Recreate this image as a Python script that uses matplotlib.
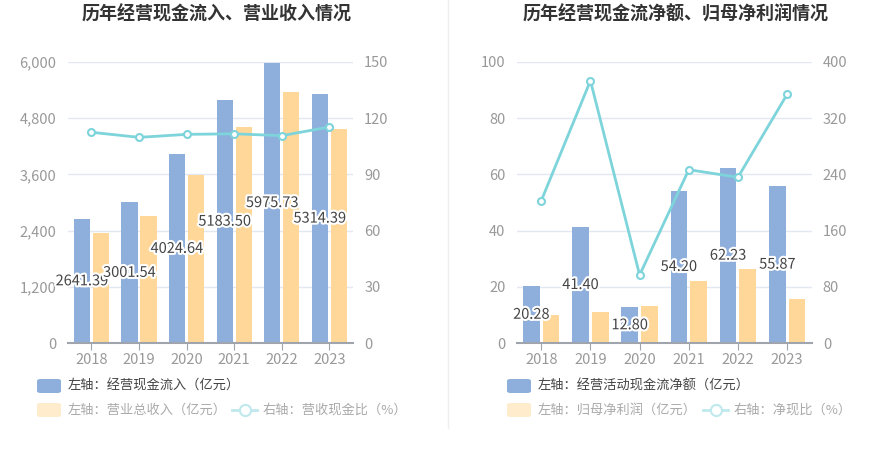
import matplotlib
matplotlib.use("Agg")
import matplotlib.pyplot as plt
import matplotlib.patheffects as pe
from matplotlib.patches import FancyBboxPatch
from matplotlib.lines import Line2D
import numpy as np

plt.rcParams['font.family'] = ['Noto Sans CJK SC', 'DejaVu Sans']

years = ['2018', '2019', '2020', '2021', '2022', '2023']

# Left chart
cash_inflow = [2641.39, 3001.54, 4024.64, 5183.50, 5975.73, 5314.39]
revenue = [2344, 2719, 3586, 4602, 5361, 4566]
inflow_ratio = [112.4, 109.7, 111.3, 111.6, 110.6, 115.2]

# Right chart
net_cash = [20.28, 41.40, 12.80, 54.20, 62.23, 55.87]
net_profit = [10.05, 11.2, 13.35, 22.0, 26.4, 15.8]
net_ratio = [202.6, 373.0, 97.0, 246.6, 235.8, 353.7]

W, H = 893, 458
fig = plt.figure(figsize=(W / 100, H / 100), dpi=100)

BLUE = '#8eaedc'
ORANGE = '#ffd899'
TEAL = '#7dd4da'
GRID = '#e3e7f1'
TICK = '#999999'


def ax_px(x, y_top, w, h):
    return fig.add_axes([x / W, (H - y_top - h) / H, w / W, h / H])


def draw(x0, width, bars1, bars2, line, lmax, rmax, lticks, rticks, lfmt, title, tcx,
         leg1, leg2, leg3, legx):
    ax = ax_px(x0, 61.7, width, 281.6)
    n = len(years)
    x = np.arange(n)
    bw = 0.34
    gap = 0.03
    ax.bar(x - bw / 2 - gap, bars1, width=bw, color=BLUE, zorder=2)
    ax.bar(x + bw / 2 + gap, bars2, width=bw, color=ORANGE, zorder=2)
    ax.set_xlim(-0.5, n - 0.5)
    ax.set_ylim(0, lmax)
    ax.set_yticks(lticks)
    ax.set_yticklabels([lfmt(v) for v in lticks])
    ax.grid(axis='y', color=GRID, linewidth=1, zorder=0)
    for s in ['top', 'right', 'left']:
        ax.spines[s].set_visible(False)
    ax.spines['bottom'].set_color('#a0a4ad')
    ax.spines['bottom'].set_linewidth(1.5)
    ax.set_xticks(x)
    ax.set_xticklabels(years)
    ax.tick_params(axis='x', colors='#a0a4ad', labelcolor=TICK, labelsize=10.5, length=5, pad=2)
    ax.tick_params(axis='y', length=0, labelcolor=TICK, labelsize=10.5, pad=8)
    for i, v in enumerate(bars1):
        ax.text(i - bw / 2 - gap, v / 2, f'{v:.2f}', ha='center', va='center', fontsize=10.5,
                color='#444444', zorder=5,
                path_effects=[pe.withStroke(linewidth=3, foreground='white')])
    ax2 = ax.twinx()
    ax2.set_ylim(0, rmax)
    ax2.set_yticks(rticks)
    ax2.plot(x, line, color=TEAL, linewidth=2, marker='o', markersize=5,
             markerfacecolor='white', markeredgecolor=TEAL, markeredgewidth=1.5, zorder=4)
    for s in ['top', 'right', 'left', 'bottom']:
        ax2.spines[s].set_visible(False)
    ax2.tick_params(axis='y', length=0, labelcolor=TICK, labelsize=10.5, pad=8)
    ax2.set_zorder(ax.get_zorder() + 1)
    ax.set_zorder(ax2.get_zorder() - 1)
    fig.text(tcx / W, 1 - 14 / H, title, ha='center', va='center', fontsize=13,
             fontweight='bold', color='#333333')
    # legend
    def sq(xp, yp, color):
        p = FancyBboxPatch(((xp) / W, (H - yp - 7) / H), 24 / W, 14 / H,
                           boxstyle='round,pad=0,rounding_size=0.004', transform=fig.transFigure,
                           facecolor=color, edgecolor='none')
        fig.patches.append(p)
    sq(legx, 386, BLUE)
    fig.text((legx + 31) / W, 1 - 386 / H, leg1, ha='left', va='center', fontsize=9.5, color='#444444')
    sq(legx, 410, '#feeccd')
    fig.text((legx + 31) / W, 1 - 410 / H, leg2, ha='left', va='center', fontsize=9.5, color='#aaaaaa')
    lx = legx + 195 if len(leg2) < 12 else legx + 195
    return ax


lx1 = 37
draw(67.7, 285.3, cash_inflow, revenue, inflow_ratio, 6000, 150,
     [0, 1200, 2400, 3600, 4800, 6000], [0, 30, 60, 90, 120, 150],
     lambda v: f'{v:,}', '历年经营现金流入、营业收入情况', 217,
     '左轴：经营现金流入（亿元）', '左轴：营业总收入（亿元）', '右轴：营收现金比（%）', lx1)

lx2 = 507
draw(516.7, 295, net_cash, net_profit, net_ratio, 100, 400,
     [0, 20, 40, 60, 80, 100], [0, 80, 160, 240, 320, 400],
     lambda v: f'{v}', '历年经营现金流净额、归母净利润情况', 676,
     '左轴：经营活动现金流净额（亿元）', '左轴：归母净利润（亿元）', '右轴：净现比（%）', lx2)

# line legend items
for lxp, txt in [(232, '右轴：营收现金比（%）'), (703, '右轴：净现比（%）')]:
    fig.lines.append(Line2D([lxp / W, (lxp + 25) / W], [1 - 410 / H, 1 - 410 / H],
                            transform=fig.transFigure, color='#bfe9ec', linewidth=2))
    fig.lines.append(Line2D([(lxp + 12.5) / W], [1 - 410 / H], transform=fig.transFigure,
                            marker='o', markersize=8, markerfacecolor='white',
                            markeredgecolor='#bfe9ec', markeredgewidth=1.5))
    fig.text((lxp + 31) / W, 1 - 410 / H, txt, ha='left', va='center', fontsize=9.5, color='#aaaaaa')

# divider
fig.lines.append(Line2D([448 / W, 448 / W], [1 - 428 / H, 1.0], transform=fig.transFigure,
                        color='#eeeeee', linewidth=1))

fig.savefig('out.png', dpi=100, facecolor='white')
